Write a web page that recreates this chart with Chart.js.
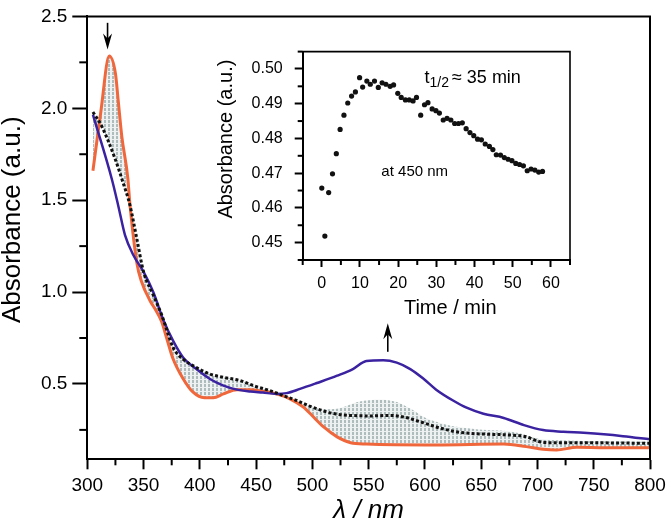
<!DOCTYPE html>
<html><head><meta charset="utf-8">
<script src="https://cdn.jsdelivr.net/npm/chart.js@4/dist/chart.umd.min.js"></script>
<style>
html,body{margin:0;padding:0;background:#fff;}
#wrap{position:relative;width:672px;height:524px;overflow:hidden;}
#main{position:absolute;left:0;top:0;}
#inset{position:absolute;left:200px;top:30px;}
</style></head><body>
<div id="wrap"><canvas id="main" width="672" height="524"></canvas><canvas id="inset" width="400" height="300"></canvas></div>
<script>
// ---------- main spectra ----------
const orangeNm  = [305,312,319.5,325,327.5,330.6,336,338,344,348,356,360,366,370.5,376,385,394,404,412,421,433,445,456,468,480,492,501,510,522,534,548,610,670,690,705,717,735,760,800];
const orangeAbs = [1.66,1.98,2.285,2.19,2.04,1.85,1.62,1.47,1.16,1.06,0.95,0.91,0.84,0.75,0.64,0.53,0.455,0.425,0.425,0.446,0.468,0.468,0.46,0.446,0.419,0.374,0.32,0.266,0.212,0.18,0.173,0.168,0.173,0.159,0.145,0.141,0.155,0.153,0.153];

const blueNm  = [305,322,327.5,333.5,341,350,358.6,367.5,376.4,385.3,397,409,421,433,445,456,468,477,489,504,522,536,548,563,575,587,599,610,625,637,652,670,688,705,723,741,759,776,800];
const blueAbs = [1.965,1.61,1.47,1.31,1.2,1.11,1.0,0.85,0.733,0.643,0.581,0.527,0.491,0.469,0.459,0.453,0.446,0.45,0.473,0.505,0.545,0.581,0.625,0.629,0.616,0.581,0.527,0.469,0.41,0.371,0.338,0.315,0.276,0.249,0.24,0.234,0.226,0.216,0.199];

const blackNm  = [305,313,325,331,338,344,350,358.6,366,376.4,385.3,397,409,421,436,447.5,462,474,486,498,510,522,533,551,569,581,596,610,625,640,658,676,690,702,717,741,800];
const blackAbs = [1.98,1.90,1.72,1.61,1.47,1.29,1.11,0.984,0.877,0.697,0.634,0.589,0.554,0.536,0.518,0.491,0.464,0.437,0.41,0.378,0.353,0.335,0.329,0.326,0.329,0.32,0.294,0.266,0.243,0.231,0.226,0.222,0.213,0.186,0.18,0.18,0.177];

// upper envelope of the grey intermediate spectra (lower envelope = orange)
const greyNm  = [305,313,325,331,338,344,350,358.6,366,376.4,385.3,397,409,421,436,447.5,462,474,486,498,510,522,541,560,575,587,599,610,625,640,655,670,685,699,714,740,800];
const greyAbs = [1.98,1.90,1.72,1.61,1.47,1.29,1.11,0.984,0.877,0.697,0.634,0.589,0.554,0.536,0.518,0.491,0.464,0.437,0.41,0.382,0.362,0.365,0.403,0.414,0.402,0.366,0.32,0.294,0.27,0.258,0.249,0.245,0.231,0.204,0.195,0.19,0.185];

// ---------- inset kinetics at 450 nm ----------
const insetTime = [0,0.8,1.8,2.8,3.8,4.8,5.8,6.8,7.8,8.8,9.9,10.7,11.8,12.7,13.8,14.8,15.8,16.8,17.9,18.8,19.9,20.8,21.9,22.9,23.9,24.8,25.9,26.9,27.8,28.9,29.9,30.8,31.8,32.8,33.8,34.8,35.8,36.8,37.8,38.8,39.8,40.8,41.8,42.8,43.9,44.8,45.7,46.8,47.8,48.8,49.8,50.8,51.8,52.8,53.8,54.8,55.8,56.8,57.8];
const insetAbs  = [0.4657,0.4519,0.4644,0.4698,0.4756,0.4826,0.4867,0.4902,0.4922,0.4934,0.4975,0.4948,0.4965,0.4956,0.4965,0.4947,0.4960,0.4956,0.4950,0.4954,0.4930,0.4918,0.4911,0.4911,0.4908,0.4918,0.4867,0.4897,0.4903,0.4885,0.4880,0.4873,0.4853,0.4858,0.4853,0.4843,0.4843,0.4845,0.4828,0.4817,0.4808,0.4798,0.4796,0.4784,0.4777,0.4768,0.4753,0.4752,0.4745,0.4740,0.4736,0.4728,0.4725,0.4721,0.4707,0.4712,0.4709,0.4703,0.4705];

// ---------- ticks ----------
const mainXTicks  = [300,350,400,450,500,550,600,650,700,750,800];
const mainXMinor  = [325,375,425,475,525,575,625,675,725,775];
const mainYTicks  = [0.5,1.0,1.5,2.0,2.5];
const mainYMinor  = [0.25,0.75,1.25,1.75,2.25];
const insetXTicks = [0,10,20,30,40,50,60];
const insetXMinor = [-5,5,15,25,35,45,55,65];
const insetYTicks = [0.45,0.46,0.47,0.48,0.49,0.50];
const insetYMinor = [0.445,0.455,0.465,0.475,0.485,0.495,0.505];

const FONT = "'Liberation Sans', Arial, Helvetica, sans-serif";
const pts = (xs, ys) => xs.map((x, i) => ({x: x, y: ys[i]}));

const frameTicks = {
  id: 'frameTicks',
  afterDraw(chart, args, opts) {
    const ctx = chart.ctx;
    ctx.save();
    ctx.strokeStyle = '#000';
    ctx.lineWidth = 2;
    (opts.minor || []).forEach(m => {
      const s = chart.scales[m.scale];
      m.values.forEach(v => {
        const p = s.getPixelForValue(v);
        ctx.beginPath();
        if (s.isHorizontal()) { ctx.moveTo(p, s.top); ctx.lineTo(p, s.top + m.len); }
        else { ctx.moveTo(s.right, p); ctx.lineTo(s.right - m.len, p); }
        ctx.stroke();
      });
    });
    const a = chart.chartArea;
    ctx.lineWidth = opts.frameWidth || 2;
    ctx.beginPath();
    ctx.moveTo(a.left, a.top); ctx.lineTo(a.right, a.top); ctx.lineTo(a.right, a.bottom);
    ctx.stroke();
    ctx.restore();
  }
};

const arrowPlugin = {
  id: 'arrows',
  afterDatasetsDraw(chart, args, opts) {
    const ctx = chart.ctx, xs = chart.scales.x, ys = chart.scales.y;
    ctx.save();
    ctx.strokeStyle = '#000'; ctx.fillStyle = '#000'; ctx.lineWidth = 1.6;
    opts.list.forEach(a => {
      const x = xs.getPixelForValue(a.x), y0 = ys.getPixelForValue(a.from), y1 = ys.getPixelForValue(a.to);
      const dir = y1 > y0 ? 1 : -1;
      ctx.beginPath(); ctx.moveTo(x, y0); ctx.lineTo(x, y1 - dir * 8); ctx.stroke();
      ctx.beginPath();
      ctx.moveTo(x, y1);
      ctx.lineTo(x - 4.5, y1 - dir * 16);
      ctx.lineTo(x, y1 - dir * 11);
      ctx.lineTo(x + 4.5, y1 - dir * 16);
      ctx.closePath(); ctx.fill();
    });
    ctx.restore();
  }
};

function hatchPattern(ctx) {
  const c = document.createElement('canvas'); c.width = 4; c.height = 4;
  const g = c.getContext('2d');
  g.fillStyle = 'rgba(222,228,228,0.5)'; g.fillRect(0, 0, 4, 4);
  g.fillStyle = 'rgba(145,163,163,0.68)'; g.fillRect(0, 0, 2, 3);
  return ctx.createPattern(c, 'repeat');
}

const mainCanvas = document.getElementById('main');
const mctx = mainCanvas.getContext('2d');

new Chart(mainCanvas, {
  type: 'line',
  data: {
    datasets: [
      {label: 'intermediate', data: pts(greyNm, greyAbs), borderWidth: 0, borderColor: 'rgba(0,0,0,0)', pointRadius: 0,
       backgroundColor: hatchPattern(mctx), fill: 1, order: 5, cubicInterpolationMode: 'monotone'},
      {label: 'final', data: pts(orangeNm, orangeAbs), borderColor: '#f0673c', borderWidth: 3, pointRadius: 0,
       fill: false, order: 3, cubicInterpolationMode: 'monotone'},
      {label: 'start', data: pts(blueNm, blueAbs), borderColor: '#3a22a0', borderWidth: 2.5, pointRadius: 0,
       fill: false, order: 2, cubicInterpolationMode: 'monotone'},
      {label: 'mid', data: pts(blackNm, blackAbs), borderColor: '#111', borderWidth: 3, borderDash: [3, 2.2], pointRadius: 0,
       fill: false, order: 1, cubicInterpolationMode: 'monotone'}
    ]
  },
  options: {
    responsive: false, animation: false, devicePixelRatio: 1,
    layout: {padding: {top: 12, right: 22, left: 0, bottom: 0}},
    plugins: {
      legend: {display: false}, tooltip: {enabled: false},
      frameTicks: {frameWidth: 2, minor: [{scale: 'x', values: mainXMinor, len: 6}, {scale: 'y', values: mainYMinor, len: 8}]},
      arrows: {list: [{x: 318, from: 2.465, to: 2.32}, {x: 567, from: 0.675, to: 0.83}]}
    },
    scales: {
      x: {
        type: 'linear', min: 300, max: 800,
        afterBuildTicks: s => { s.ticks = mainXTicks.map(v => ({value: v})); },
        afterFit: s => { s.height = 64.7; },
        ticks: {font: {family: FONT, size: 19}, color: '#000', padding: 5, maxRotation: 0, autoSkip: false, callback: v => String(v)},
        grid: {display: true, drawOnChartArea: false, drawTicks: true, tickLength: 10, tickWidth: 2, tickColor: '#000'},
        border: {display: true, color: '#000', width: 2},
        title: {display: true, text: 'λ / nm', color: '#000', font: {family: FONT, size: 26, style: 'italic', lineHeight: 1}, padding: {top: 0, bottom: 0}}
      },
      y: {
        type: 'linear', min: 0.09, max: 2.5,
        afterBuildTicks: s => { s.ticks = mainYTicks.map(v => ({value: v})); },
        afterFit: s => { s.width = 87.3; },
        ticks: {font: {family: FONT, size: 19}, color: '#000', padding: 5, autoSkip: false, callback: v => Number(v).toFixed(1)},
        grid: {display: true, drawOnChartArea: false, drawTicks: true, tickLength: 15, tickWidth: 2, tickColor: '#000'},
        border: {display: true, color: '#000', width: 2},
        title: {display: true, text: '     Absorbance (a.u.)', color: '#000', font: {family: FONT, size: 26, lineHeight: 1}, padding: {top: 0, bottom: 0}}
      }
    }
  },
  plugins: [frameTicks, arrowPlugin]
});

// ---------- inset ----------
const insetText = {
  id: 'insetText',
  afterDraw(chart) {
    const ctx = chart.ctx, xs = chart.scales.x, ys = chart.scales.y;
    ctx.save();
    ctx.fillStyle = '#000';
    ctx.textBaseline = 'alphabetic'; ctx.textAlign = 'left';
    let x = xs.getPixelForValue(26.9), y = ys.getPixelForValue(0.496);
    ctx.font = '18px ' + FONT; ctx.fillText('t', x, y); x += ctx.measureText('t').width;
    ctx.font = '14px ' + FONT; ctx.fillText('1/2', x, y + 4.5); x += ctx.measureText('1/2').width + 3;
    ctx.font = '18px ' + FONT; ctx.fillText('≈ 35 min', x, y);
    ctx.font = '15px ' + FONT; ctx.textBaseline = 'middle';
    ctx.fillText('at 450 nm', xs.getPixelForValue(15.6), ys.getPixelForValue(0.4705));
    ctx.restore();
  }
};

new Chart(document.getElementById('inset'), {
  type: 'scatter',
  data: {datasets: [{label: '450 nm', data: pts(insetTime, insetAbs), pointRadius: 2.6, pointBackgroundColor: '#111', pointBorderWidth: 0, showLine: false}]},
  options: {
    responsive: false, animation: false, devicePixelRatio: 1,
    layout: {padding: {top: 16.7, right: 30, left: 0, bottom: 0}},
    plugins: {
      legend: {display: false}, tooltip: {enabled: false},
      frameTicks: {frameWidth: 1.6, minor: [{scale: 'x', values: insetXMinor, len: 5}, {scale: 'y', values: insetYMinor, len: 5}]}
    },
    scales: {
      x: {
        type: 'linear', min: -5, max: 65,
        afterBuildTicks: s => { s.ticks = insetXTicks.map(v => ({value: v})); },
        afterFit: s => { s.height = 70; },
        ticks: {font: {family: FONT, size: 16}, color: '#000', padding: 7, maxRotation: 0, autoSkip: false, callback: v => String(v)},
        grid: {display: true, drawOnChartArea: false, drawTicks: true, tickLength: 7, tickWidth: 2, tickColor: '#000'},
        border: {display: true, color: '#000', width: 2},
        title: {display: true, text: '     Time / min', color: '#000', font: {family: FONT, size: 20, lineHeight: 1}, padding: {top: 0, bottom: 11.7}}
      },
      y: {
        type: 'linear', min: 0.445, max: 0.505,
        afterBuildTicks: s => { s.ticks = insetYTicks.map(v => ({value: v})); },
        afterFit: s => { s.width = 102.7; },
        ticks: {font: {family: FONT, size: 16}, color: '#000', padding: 12, autoSkip: false, callback: v => Number(v).toFixed(2)},
        grid: {display: true, drawOnChartArea: false, drawTicks: true, tickLength: 8, tickWidth: 2, tickColor: '#000'},
        border: {display: true, color: '#000', width: 2},
        title: {display: true, text: '      Absorbance (a.u.)', color: '#000', font: {family: FONT, size: 20, lineHeight: 1}, padding: {top: 16.5, bottom: 0}}
      }
    }
  },
  plugins: [frameTicks, insetText]
});
</script>
</body></html>
